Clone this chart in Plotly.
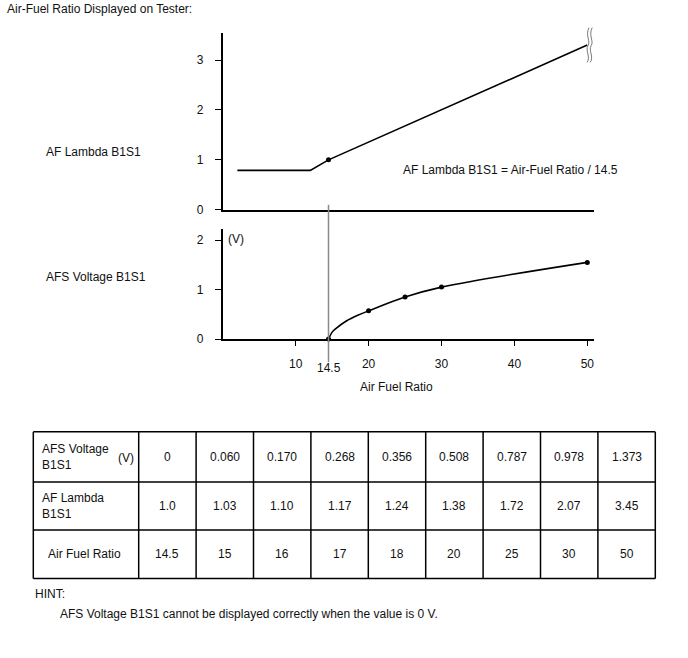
import plotly.graph_objects as go

# ---------------- data ----------------
lambda_x = [2, 12, 14.5, 50]
lambda_y = [0.79, 0.79, 1.0, 3.3]
lambda_dot_x = [14.5]
lambda_dot_y = [1.0]

# points
volt_curve_x = [14.5, 15.0, 15.5, 17.0, 18.5, 20, 25, 30, 50]
volt_curve_y = [0.0, 0.14, 0.21, 0.37, 0.48, 0.57, 0.85, 1.05, 1.55]
# marked points on the voltage curve
volt_x = [14.5, 20, 25, 30, 50]
volt_y = [0.0, 0.57, 0.85, 1.05, 1.55]

x_ticks = [10, 20, 30, 40, 50]
lambda_ticks = [0, 1, 2, 3]
volt_ticks = [0, 1, 2]
stoich = 14.5

row_labels = ["AFS Voltage<br>B1S1", "AF Lambda<br>B1S1", "Air Fuel Ratio"]
afs_voltage = ["0", "0.060", "0.170", "0.268", "0.356", "0.508", "0.787", "0.978", "1.373"]
af_lambda = ["1.0", "1.03", "1.10", "1.17", "1.24", "1.38", "1.72", "2.07", "3.45"]
air_fuel = ["14.5", "15", "16", "17", "18", "20", "25", "30", "50"]

# ---------------- layout helpers ----------------
W, H = 688, 658
def PX(x):
    return x / W
def PY(y):
    return 1 - y / H

FONT = "Arial, Liberation Sans, sans-serif"
FS = 12
TXT = "#111"
X0, X1 = 222.8, 594.0
XSCALE = 7.29
XR = [0, (X1 - X0) / XSCALE]

fig = go.Figure()

fig.add_trace(go.Scatter(x=lambda_x, y=lambda_y, mode="lines",
                         line=dict(color="black", width=1.6),
                         xaxis="x", yaxis="y", showlegend=False, hoverinfo="skip"))
fig.add_trace(go.Scatter(x=lambda_dot_x, y=lambda_dot_y, mode="markers",
                         marker=dict(color="black", size=5),
                         xaxis="x", yaxis="y", showlegend=False, cliponaxis=False))
fig.add_trace(go.Scatter(x=volt_curve_x, y=volt_curve_y, mode="lines",
                         line=dict(color="black", width=1.6, shape="spline", smoothing=1.0),
                         xaxis="x2", yaxis="y2", showlegend=False, hoverinfo="skip"))
fig.add_trace(go.Scatter(x=volt_x, y=volt_y, mode="markers",
                         marker=dict(color="black", size=5),
                         xaxis="x2", yaxis="y2", showlegend=False, cliponaxis=False))

axis_common = dict(showgrid=False, zeroline=False, showline=True, linecolor="black",
                   linewidth=2, tickcolor="black", tickwidth=1,
                   tickfont=dict(family=FONT, size=FS, color=TXT))

layout = dict(
    width=W, height=H, margin=dict(l=0, r=0, t=0, b=0),
    paper_bgcolor="white", plot_bgcolor="white",
    font=dict(family=FONT, size=FS, color=TXT),
    xaxis=dict(domain=[PX(X0), PX(X1)], range=XR, anchor="y",
               showticklabels=False, ticks="", **axis_common),
    yaxis=dict(domain=[PY(212), PY(33)], range=[0, (212 - 33) / 50.43], anchor="x",
               tickvals=lambda_ticks, ticks="outside", ticklen=6,
               ticklabelstandoff=9, **axis_common),
    xaxis2=dict(domain=[PX(X0), PX(X1)], range=XR, anchor="y2",
                tickvals=x_ticks, ticks="outside", ticklen=5,
                ticklabelstandoff=8, **axis_common),
    yaxis2=dict(domain=[PY(342.7), PY(231.7)], range=[0, (342.7 - 231.7) / 50.0], anchor="x2",
                tickvals=volt_ticks, ticks="outside", ticklen=6,
                ticklabelstandoff=9, **axis_common),
)
fig.update_layout(**layout)

shapes = []
annotations = []

# vertical stoichiometric line
shapes.append(dict(type="line", xref="x2", yref="paper", x0=stoich, x1=stoich,
                   y0=PY(366), y1=PY(207), line=dict(color="#8a8a8a", width=1.5)))
annotations.append(dict(xref="x2", yref="paper", x=stoich, y=PY(372), text="14.5",
                        showarrow=False, xanchor="center", yanchor="middle",
                        font=dict(family=FONT, size=FS, color=TXT)))

# axis break symbol at the end of the lambda line
for dx in (0, 3.2):
    bx = 588 + dx
    path = (f"M {PX(bx+1)} {PY(28)} C {PX(bx-3)} {PY(36)}, {PX(bx+3)} {PY(42)}, {PX(bx)} {PY(46)} "
            f"C {PX(bx-3)} {PY(51)}, {PX(bx+3)} {PY(58)}, {PX(bx-1)} {PY(63)}")
    shapes.append(dict(type="path", xref="paper", yref="paper", path=path,
                       line=dict(color="#777", width=1)))

def ann(x, y, text, xanchor="left", size=FS):
    annotations.append(dict(xref="paper", yref="paper", x=PX(x), y=PY(y), text=text,
                            showarrow=False, xanchor=xanchor, yanchor="middle",
                            font=dict(family=FONT, size=size, color=TXT), align="left"))

ann(5, 9, "Air-Fuel Ratio Displayed on Tester:")
ann(44, 154, "AF Lambda B1S1")
ann(44, 280, "AFS Voltage B1S1")
ann(401, 172, "AF Lambda B1S1 = Air-Fuel Ratio / 14.5")
ann(226, 242, "(V)")
ann(396, 391, "Air Fuel Ratio", xanchor="center")

# ---------------- table ----------------
T_LEFT, T_TOP = 33.3, 436.5
FIRST_W, COL_W = 105.4, 57.4
ROW_H = [50.6, 48.7, 49.0]
rows = [afs_voltage, af_lambda, air_fuel]
ncol = len(air_fuel)
col_edges = [T_LEFT, T_LEFT + FIRST_W] + [T_LEFT + FIRST_W + COL_W * (i + 1) for i in range(ncol)]
row_edges = [T_TOP]
for h in ROW_H:
    row_edges.append(row_edges[-1] + h)

for xe in col_edges:
    shapes.append(dict(type="line", xref="paper", yref="paper", x0=PX(xe), x1=PX(xe),
                       y0=PY(row_edges[0]), y1=PY(row_edges[-1]),
                       line=dict(color="black", width=1.5)))
for ye in row_edges:
    shapes.append(dict(type="line", xref="paper", yref="paper", x0=PX(col_edges[0]), x1=PX(col_edges[-1]),
                       y0=PY(ye), y1=PY(ye), line=dict(color="black", width=1.5)))

for r, (label, vals) in enumerate(zip(row_labels, rows)):
    yc = (row_edges[r] + row_edges[r + 1]) / 2
    lx = 46 if "<br>" not in label else 40
    ann(lx, yc, label)
    if r == 0:
        ann(136, yc + 1, "(V)", xanchor="right")
    for c, v in enumerate(vals):
        xc = (col_edges[c + 1] + col_edges[c + 2]) / 2
        ann(xc, yc, v, xanchor="center")

ann(33, 600, "HINT:")
ann(58, 621, "AFS Voltage B1S1 cannot be displayed correctly when the value is 0 V.")

fig.update_layout(shapes=shapes, annotations=annotations)
fig.write_html("out.html")
